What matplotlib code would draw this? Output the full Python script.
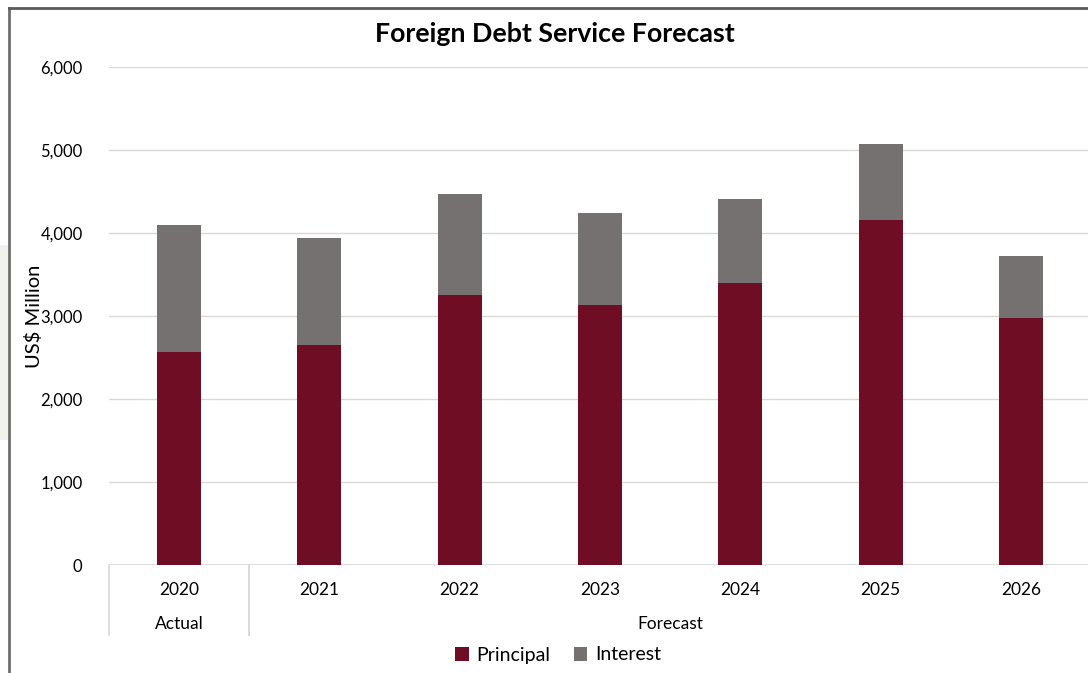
import matplotlib.pyplot as plt
from matplotlib.lines import Line2D
from matplotlib.patches import Rectangle
import numpy as np

plt.rcParams['font.family'] = ['Lato', 'DejaVu Sans']

years = ['2020', '2021', '2022', '2023', '2024', '2025', '2026']
principal = [2570, 2650, 3250, 3130, 3400, 4160, 2975]
interest = [1530, 1290, 1220, 1110, 1010, 910, 750]
groups = [('Actual', 0, 0), ('Forecast', 1, 6)]

c_principal = '#6e0d24'
c_interest = '#767171'
grid_c = '#d9d9d9'

fig = plt.figure(figsize=(10.88, 6.73), dpi=100)
ax = fig.add_axes([109 / 1088, 108 / 673, 982 / 1088, 498 / 673])

x = np.arange(len(years))
w = 0.314
ax.bar(x, principal, w, color=c_principal, label='Principal', zorder=3)
ax.bar(x, interest, w, bottom=principal, color=c_interest, label='Interest', zorder=3)

ax.set_xlim(-0.5, len(years) - 0.5)
ax.set_ylim(0, 6000)
ax.set_yticks(np.arange(0, 6001, 1000))
ax.set_yticklabels([f'{v:,}' for v in range(0, 6001, 1000)], fontsize=12)
ax.tick_params(axis='y', length=0, pad=19)
ax.set_xticks([])
ax.grid(axis='y', color=grid_c, lw=1, zorder=0)
for s in ax.spines.values():
    s.set_visible(False)
ax.axhline(0, color=grid_c, lw=1.2, zorder=2)

fig.text(34 / 1088, 1 - 316 / 673, 'US$ Million', fontsize=14.5, rotation=90,
         ha='center', va='center')

# category table under the axis
trans = ax.get_xaxis_transform()
for i, y in enumerate(years):
    ax.text(i, -0.05, y, transform=trans, ha='center', va='center', fontsize=12.5)
for name, a, b in groups:
    ax.text((a + b) / 2, -0.119, name, transform=trans, ha='center', va='center', fontsize=12.5)
    for edge in (a - 0.5, b + 0.5):
        ax.add_line(Line2D([edge, edge], [0, -0.14], transform=trans, color=grid_c,
                           lw=1.2, clip_on=False))

fig.text(555 / 1088, 1 - 34 / 673, 'Foreign Debt Service Forecast', fontsize=19.3,
         fontweight='bold', ha='center', va='center')

leg = fig.legend(loc='center', bbox_to_anchor=(558 / 1088, 1 - 655 / 673), ncol=2,
                 frameon=False, fontsize=14, handlelength=0.7, handleheight=0.7,
                 handletextpad=0.4, columnspacing=1.2)

# surrounding frame and page background
fig.add_artist(Line2D([9 / 1088, 9 / 1088], [0, 1 - 8 / 673], color='#6e6e6e', lw=2))
fig.add_artist(Line2D([9 / 1088, 1], [1 - 8 / 673, 1 - 8 / 673], color='#5a5a5a', lw=2))
fig.add_artist(Rectangle((0, 1 - 440 / 673), 8 / 1088, 195 / 673, color='#f1f1ee', lw=0))

fig.savefig('out.png', dpi=100)
